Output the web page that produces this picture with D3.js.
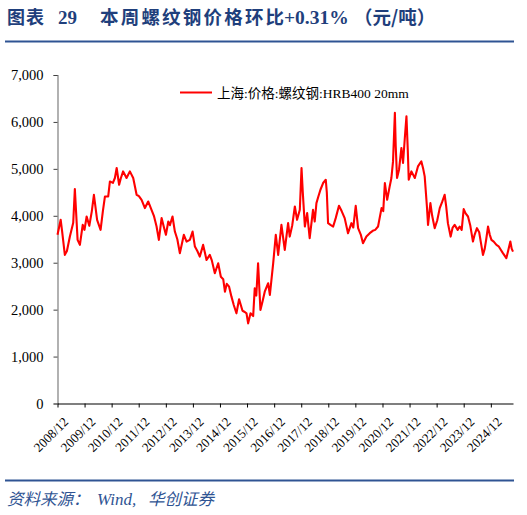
<!DOCTYPE html>
<html lang="zh"><head><meta charset="UTF-8">
<title>螺纹钢价格</title>
<script src="https://cdn.jsdelivr.net/npm/d3@7"></script>
<style>
  body { margin: 0; background: #fff; }
  text { font-family: "Liberation Serif", "Noto Sans CJK SC", serif; }
</style>
</head>
<body>
<script>
// 上海:价格:螺纹钢:HRB400 20mm (元/吨)
var dates = [
  "2008-12-01","2009-01-13","2009-01-30","2009-03-10","2009-04-07","2009-05-17","2009-07-01","2009-07-23",
  "2009-08-29","2009-09-29","2009-11-06","2009-11-30","2009-12-29","2010-02-03","2010-03-09","2010-04-06",
  "2010-04-26","2010-05-19","2010-07-05","2010-08-05","2010-09-02","2010-10-16","2010-11-08","2010-12-18",
  "2011-01-14","2011-02-07","2011-03-12","2011-04-04","2011-05-05","2011-06-20","2011-08-04","2011-09-18",
  "2011-11-03","2011-12-04","2012-01-09","2012-02-23","2012-04-07","2012-05-22","2012-06-23","2012-07-29",
  "2012-08-29","2012-10-05","2012-11-06","2012-12-02","2013-01-03","2013-01-25","2013-03-01","2013-04-02",
  "2013-05-05","2013-06-08","2013-07-05","2013-08-01","2013-09-07","2013-10-21","2013-11-27","2013-12-28",
  "2014-01-30","2014-03-04","2014-04-18","2014-06-03","2014-07-17","2014-08-13","2014-09-23","2014-11-07",
  "2014-12-13","2015-01-14","2015-02-06","2015-03-03","2015-04-03","2015-05-05","2015-06-05","2015-07-11",
  "2015-08-16","2015-10-01","2015-11-01","2015-11-24","2015-12-16","2016-01-17","2016-02-22","2016-03-14",
  "2016-04-04","2016-04-28","2016-05-30","2016-07-01","2016-07-27","2016-09-11","2016-10-04","2016-11-18",
  "2016-12-23","2017-01-24","2017-03-09","2017-04-23","2017-06-07","2017-06-29","2017-08-02","2017-09-06",
  "2017-10-06","2017-11-12","2017-12-05","2017-12-22","2018-01-19","2018-02-19","2018-03-25","2018-05-09",
  "2018-06-01","2018-06-24","2018-07-18","2018-08-17","2018-09-22","2018-10-28","2018-11-11","2018-11-28",
  "2019-01-04","2019-02-05","2019-03-11","2019-04-24","2019-05-30","2019-07-10","2019-08-24","2019-10-09",
  "2019-11-03","2019-12-06","2020-01-07","2020-02-12","2020-03-13","2020-04-28","2020-06-12","2020-07-22",
  "2020-08-25","2020-10-02","2020-11-18","2020-12-11","2021-01-02","2021-02-02","2021-03-08","2021-03-31",
  "2021-04-22","2021-05-17","2021-05-28","2021-06-15","2021-07-12","2021-08-13","2021-09-04","2021-09-30",
  "2021-10-20","2021-11-07","2021-11-20","2021-12-26","2022-02-10","2022-03-24","2022-05-09","2022-06-03",
  "2022-06-23","2022-07-23","2022-08-07","2022-09-08","2022-10-02","2022-11-05","2022-12-09","2023-01-12",
  "2023-02-15","2023-03-19","2023-04-09","2023-05-02","2023-06-08","2023-07-05","2023-08-01","2023-09-11",
  "2023-10-08","2023-11-04","2023-12-01","2023-12-27","2024-01-28","2024-02-27","2024-04-04","2024-04-27",
  "2024-05-28","2024-06-27","2024-07-23","2024-08-17","2024-09-10","2024-09-30","2024-10-24","2024-11-16",
  "2024-12-09","2025-01-09","2025-02-15","2025-03-16","2025-04-12","2025-05-13","2025-06-05","2025-06-28",
  "2025-07-22","2025-08-21","2025-09-08","2025-09-26"
];
var prices = [
  3594,3914,3700,3167,3250,3557,3850,4570,
  3487,3380,3807,3700,3985,3786,4100,4448,
  4200,3914,3700,4100,4412,4412,4732,4700,
  4805,5018,4661,4800,4946,4805,4946,4805,
  4448,4420,4341,4164,4305,4128,4000,3771,
  3487,3950,3750,3594,3878,3800,3985,3664,
  3500,3203,3400,3594,3451,3487,3664,3344,
  3250,3131,3380,3060,3167,3050,2776,2989,
  2700,2650,2383,2550,2490,2277,2100,1922,
  2221,1977,1950,1922,1708,1922,1864,2456,
  2300,2989,1992,2200,2383,2562,2313,2989,
  3594,3167,3807,3274,3843,3557,3800,4198,
  3914,4128,5018,4500,3771,4057,3523,4128,
  3878,4270,4400,4555,4698,4768,4500,3843,
  3800,3771,3950,4213,4100,3950,3630,3843,
  3750,4213,3737,3600,3416,3557,3630,3680,
  3700,3771,4164,4100,4698,4341,4626,4805,
  5159,6193,5500,4805,4982,5445,5125,5700,
  6120,5400,4768,4946,4805,5052,5159,5000,
  4839,4198,3807,4270,4000,3737,3900,4164,
  4300,4448,4200,3843,3557,3750,3807,3700,
  3771,3700,4142,4050,3985,3800,3451,3600,
  3737,3650,3400,3167,3300,3500,3771,3600,
  3487,3450,3380,3350,3280,3203,3150,3096,
  3250,3451,3300,3237
];
var yTicks = [0, 1000, 2000, 3000, 4000, 5000, 6000, 7000];
var xTickYears = d3.range(2008, 2025);   // 2008/12 ... 2024/12
var seriesName = "上海:价格:螺纹钢:HRB400 20mm";

var W = 527, H = 515;
var parse = d3.timeParse("%Y-%m-%d");
var data = dates.map(function(d, i) { return { date: parse(d), v: prices[i] }; });

var svg = d3.select("body").append("svg")
  .attr("width", W).attr("height", H);

// title
var blue = "#1f3f7c";
var title = svg.append("text").attr("y", 24)
  .attr("fill", blue).attr("font-weight", "bold");
title.append("tspan").attr("x", 7).attr("font-family", "Noto Sans CJK SC")
  .attr("font-size", 18).attr("letter-spacing", 1).text("图表");
title.append("tspan").attr("x", 58).attr("font-family", "Liberation Serif")
  .attr("font-size", 19).text("29");
title.append("tspan").attr("x", 100).attr("font-family", "Noto Sans CJK SC")
  .attr("font-size", 18.5).attr("letter-spacing", 2.2).text("本周螺纹钢价格环比");
title.append("tspan").attr("x", 284).attr("font-family", "Liberation Serif")
  .attr("font-size", 19.5).text("+0.31%");
title.append("tspan").attr("x", 354).attr("font-family", "Noto Sans CJK SC")
  .attr("font-size", 18.5).text("（元/吨）");
svg.append("line").attr("x1", 5).attr("x2", 514).attr("y1", 41.5).attr("y2", 41.5)
  .attr("stroke", "#2f5493").attr("stroke-width", 2);

// scales
var x = d3.scaleTime()
  .domain([parse("2008-12-01"), parse("2025-09-26")])
  .range([57.5, 513]);
var y = d3.scaleLinear().domain([0, 7000]).range([403.5, 75]);

// y axis
var gy = svg.append("g").attr("transform", "translate(57.5,0)")
  .call(d3.axisLeft(y).tickValues(yTicks).tickSize(4).tickPadding(10)
    .tickFormat(d3.format(",")));
gy.select(".domain").attr("stroke", "#7f7f7f").attr("stroke-width", 1.2);
gy.selectAll(".tick line").attr("stroke", "#404040");
gy.selectAll("text").attr("font-size", 14.5).attr("fill", "#000")
  .attr("font-family", "Liberation Serif");

// x axis
var gx = svg.append("g").attr("transform", "translate(0,403.5)")
  .call(d3.axisBottom(x)
    .tickValues(xTickYears.map(function(yr) { return new Date(yr, 11, 1); }))
    .tickSize(4).tickSizeOuter(0)
    .tickFormat(d3.timeFormat("%Y/%m")));
gx.select(".domain").attr("stroke", "#000").attr("stroke-width", 1.2);
gx.selectAll(".tick line").attr("stroke", "#000");
gx.selectAll("text")
  .attr("font-size", 13).attr("fill", "#000")
  .attr("font-family", "Liberation Serif")
  .attr("text-anchor", "end")
  .attr("dy", "0.35em")
  .attr("transform", "translate(3,11) rotate(-45)");

// series
var line = d3.line()
  .x(function(d) { return x(d.date); })
  .y(function(d) { return y(d.v); });
svg.append("path").datum(data)
  .attr("d", line)
  .attr("fill", "none")
  .attr("stroke", "#ff0000")
  .attr("stroke-width", 2.1)
  .attr("stroke-linejoin", "round");

// legend
svg.append("line").attr("x1", 180).attr("x2", 212).attr("y1", 92.5).attr("y2", 92.5)
  .attr("stroke", "#ff0000").attr("stroke-width", 2);
svg.append("text").attr("x", 217).attr("y", 97.5)
  .attr("font-size", 13.5).attr("fill", "#000")
  .text(seriesName);

// footer
svg.append("line").attr("x1", 5).attr("x2", 514).attr("y1", 480.5).attr("y2", 480.5)
  .attr("stroke", "#2f5493").attr("stroke-width", 2);
var src = svg.append("text").attr("y", 505)
  .attr("fill", "#2f5493").attr("font-style", "italic");
src.append("tspan").attr("x", 7).attr("font-family", "Noto Sans CJK SC")
  .attr("font-size", 16.5).text("资料来源：");
src.append("tspan").attr("x", 97).attr("font-family", "Liberation Serif")
  .attr("font-size", 17).text("Wind,");
src.append("tspan").attr("x", 148).attr("font-family", "Noto Sans CJK SC")
  .attr("font-size", 16.5).text("华创证券");
</script>
</body></html>
